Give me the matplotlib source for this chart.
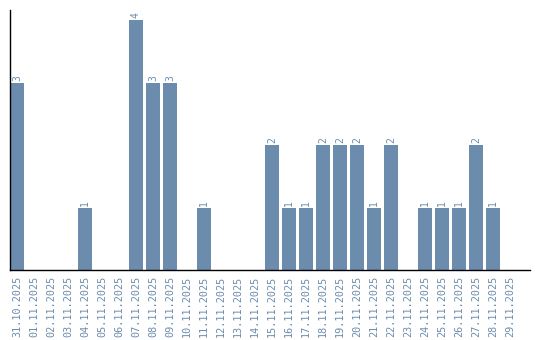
import matplotlib.pyplot as plt

dates = ['31.10.2025', '01.11.2025', '02.11.2025', '03.11.2025', '04.11.2025',
         '05.11.2025', '06.11.2025', '07.11.2025', '08.11.2025', '09.11.2025',
         '10.11.2025', '11.11.2025', '12.11.2025', '13.11.2025', '14.11.2025',
         '15.11.2025', '16.11.2025', '17.11.2025', '18.11.2025', '19.11.2025',
         '20.11.2025', '21.11.2025', '22.11.2025', '23.11.2025', '24.11.2025',
         '25.11.2025', '26.11.2025', '27.11.2025', '28.11.2025', '29.11.2025']
counts = [3, 0, 0, 0, 1, 0, 0, 4, 3, 3, 0, 1, 0, 0, 0,
          2, 1, 1, 2, 2, 2, 1, 2, 0, 1, 1, 1, 2, 1, 0]

bar_color = '#6b8cad'
text_color = '#6b8cad'

fig = plt.figure(figsize=(5.4, 3.4), dpi=100)
ax = fig.add_axes([10 / 540, 70 / 340, 520 / 540, 260 / 340])

x = list(range(len(dates)))
bw = 14 / 17
ax.bar(x, counts, width=bw, color=bar_color)

# value labels above non-zero bars
for xi, c in zip(x, counts):
    if c > 0:
        ax.text(xi, c + 0.03, str(c), rotation=90, ha='center', va='bottom',
                color=text_color, fontsize=7, family='DejaVu Sans Mono')

ax.set_xlim(-bw / 2, 30.18)
ax.set_ylim(0, 4.16)
ax.set_xticks(x)
ax.set_xticklabels(dates, rotation=90, color=text_color, fontsize=7.3,
                   family='DejaVu Sans Mono')
ax.tick_params(axis='x', length=0, pad=4)
ax.set_yticks([])

for s in ['top', 'right']:
    ax.spines[s].set_visible(False)
ax.spines['left'].set_linewidth(1)
ax.spines['bottom'].set_linewidth(1)

plt.savefig('out.png', dpi=100)
